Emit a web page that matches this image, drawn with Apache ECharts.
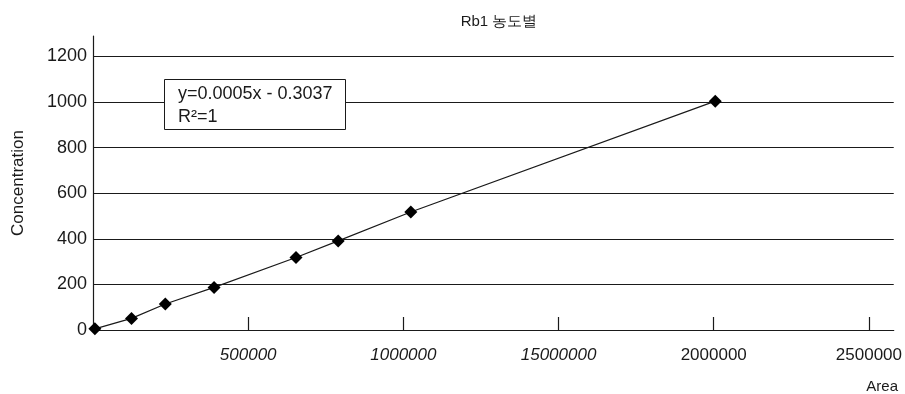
<!DOCTYPE html>
<html>
<head>
<meta charset="utf-8">
<script src="https://cdn.jsdelivr.net/npm/echarts@6/dist/echarts.min.js"></script>
<style>
html,body{margin:0;padding:0;background:#fff;}
#chart{width:905px;height:394px;}
</style>
</head>
<body>
<div id="chart"></div>
<script>
// Data
const area = [6000, 124000, 233000, 390000, 654000, 790000, 1024000, 2005000];
const concentration = [5, 51, 114, 187, 318, 391, 518, 1004];
const xTickValues = [500000, 1000000, 1500000, 2000000, 2500000];
const xTickLabels = ['500000', '1000000', '15000000', '2000000', '2500000'];
const xTickItalic = [true, true, true, false, false];
const yTickValues = [0, 200, 400, 600, 800, 1000, 1200];
const chartTitle = 'Rb1 농도별';
const equationText = 'y=0.0005x - 0.3037\nR²=1';
const xName = 'Area';
const yName = 'Concentration';

const points = area.map((a, i) => [a, concentration[i]]);
const FONT = "'Liberation Sans', Arial, sans-serif";
const INK = '#1a1a1a';

const chart = echarts.init(document.getElementById('chart'), null, {renderer: 'canvas'});
chart.setOption({
  backgroundColor: '#ffffff',
  animation: false,
  title: [
    {text: chartTitle, left: 494, top: 9, textAlign: 'center',
     textStyle: {fontFamily: FONT, fontSize: 15, fontWeight: 'normal', color: INK}},
    {text: equationText, left: 164, top: 79,
     padding: [4, 13, 1, 14], borderColor: INK, borderWidth: 1, backgroundColor: '#fff',
     textStyle: {fontFamily: FONT, fontSize: 18, fontWeight: 'normal', color: INK, lineHeight: 23}},
    {text: xName, right: 2, top: 374,
     textStyle: {fontFamily: FONT, fontSize: 15, fontWeight: 'normal', color: INK}}
  ],
  grid: {left: 93, right: 5, top: 36, bottom: 64, containLabel: false},
  xAxis: {
    type: 'value', min: 0, max: 2580000,
    axisLine: {show: true, lineStyle: {color: INK, width: 1.2}},
    axisTick: {show: true, inside: true, length: 13, customValues: xTickValues,
               lineStyle: {color: INK, width: 1.2}},
    axisLabel: {
      customValues: xTickValues, margin: 17,
      fontFamily: FONT, fontSize: 17, color: INK,
      formatter: function (v) {
        const i = xTickValues.indexOf(v);
        if (i < 0) return '';
        return (xTickItalic[i] ? '{i|' : '{n|') + xTickLabels[i] + '}';
      },
      rich: {
        i: {fontFamily: FONT, fontSize: 17, fontStyle: 'italic', color: INK},
        n: {fontFamily: FONT, fontSize: 17, color: INK}
      }
    },
    splitLine: {show: false}
  },
  yAxis: {
    type: 'value', min: 0, max: 1290,
    name: yName, nameLocation: 'middle', nameGap: 66, nameRotate: 90,
    nameTextStyle: {fontFamily: FONT, fontSize: 17, color: INK},
    axisLine: {show: true, lineStyle: {color: INK, width: 1.2}},
    axisTick: {show: false, customValues: yTickValues},
    axisLabel: {customValues: yTickValues, margin: 6, fontFamily: FONT, fontSize: 18, color: INK,
                formatter: function (v) { return String(v); }},
    splitLine: {show: true, lineStyle: {color: INK, width: 1.2}}
  },
  series: [{
    type: 'line',
    data: points,
    symbol: 'diamond',
    symbolSize: 13,
    showAllSymbol: true,
    lineStyle: {color: INK, width: 1.2},
    itemStyle: {color: '#000'},
    z: 5
  }]
});
</script>
</body>
</html>
